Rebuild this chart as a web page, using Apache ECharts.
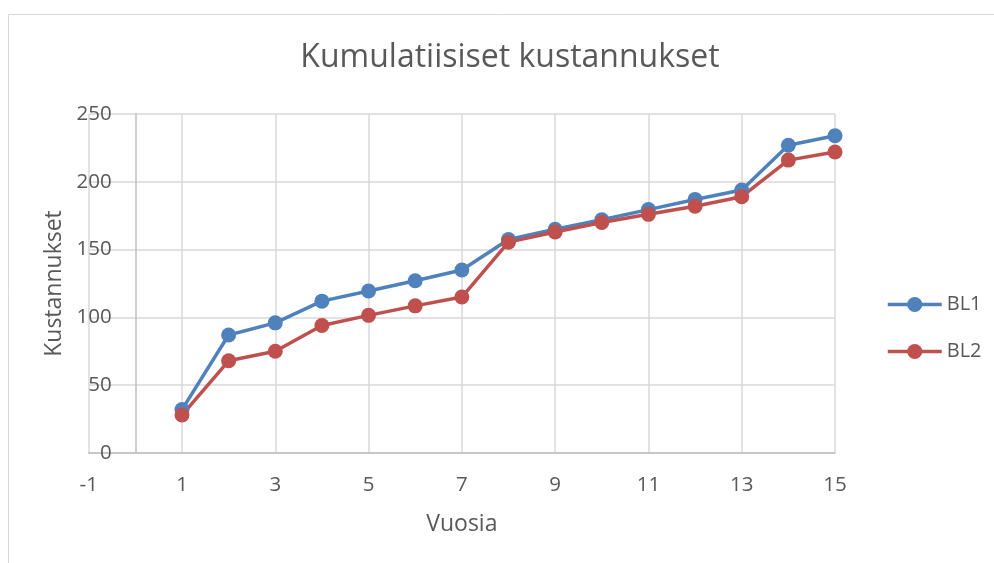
<!DOCTYPE html>
<html style="height: 100%">
<head>
    <meta charset="utf-8">
    <script src="https://cdn.jsdelivr.net/npm/echarts@6/dist/echarts.min.js"></script>
</head>
<body style="height: 100%; margin: 0; background: #fff">
<div id="container" style="width: 994px; height: 563px"></div>

<script type="text/javascript">
    // years on the x axis
    var years = [1, 2, 3, 4, 5, 6, 7, 8, 9, 10, 11, 12, 13, 14, 15];
    var bl1 = [32, 87, 96, 112, 119.5, 127, 135, 157.5, 165, 172, 179.5, 187, 194, 227, 234];
    var bl2 = [28, 68, 75, 94, 101.5, 108.5, 115, 155.5, 163, 170, 176, 182, 189, 216, 222];
    var seriesNames = ['BL1', 'BL2'];
    var seriesColors = ['#4f81bd', '#c0504d'];

    var textColor = '#595959';
    var gridColor = '#d9d9d9';
    var axisColor = '#bfbfbf';
    var font = 'Open Sans';

    function pairs(values) {
        return years.map(function (y, i) { return [y, values[i]]; });
    }

    var myChart = echarts.init(document.getElementById('container'), null, {renderer: 'canvas'});

    var option = {
        backgroundColor: '#fff',
        animation: false,
        graphic: [{
            type: 'rect',
            shape: {x: 8.5, y: 14.5, width: 1200, height: 800},
            style: {fill: 'none', stroke: gridColor, lineWidth: 1},
            silent: true
        }],
        title: {
            text: 'Kumulatiisiset kustannukset',
            left: 505,
            textAlign: 'center',
            top: 37,
            textStyle: {color: textColor, fontFamily: font, fontSize: 32, fontWeight: 'normal'}
        },
        legend: {
            orient: 'vertical',
            left: 881,
            top: 289.5,
            itemWidth: 54,
            itemHeight: 19,
            itemGap: 27,
            lineStyle: {width: 3.5},
            textStyle: {color: textColor, fontFamily: font, fontSize: 20},
            data: seriesNames
        },
        grid: {left: 88.7, right: 159, top: 114, bottom: 110, outerBoundsMode: 'none'},
        xAxis: {
            type: 'value',
            min: -1,
            max: 15,
            interval: 2,
            name: 'Vuosia',
            nameLocation: 'middle',
            nameGap: 60,
            nameTextStyle: {color: textColor, fontFamily: font, fontSize: 23},
            axisLine: {lineStyle: {color: axisColor, width: 1.5}},
            axisTick: {show: false},
            axisLabel: {color: textColor, fontFamily: font, fontSize: 20.5, margin: 22},
            splitLine: {show: true, lineStyle: {color: gridColor, width: 1.5}}
        },
        yAxis: {
            type: 'value',
            min: 0,
            max: 250,
            interval: 50,
            name: 'Kustannukset',
            nameLocation: 'middle',
            nameGap: 23,
            nameTextStyle: {color: textColor, fontFamily: font, fontSize: 23},
            axisLine: {show: true, onZero: true, lineStyle: {color: axisColor, width: 1.5}},
            axisTick: {show: false},
            axisLabel: {color: textColor, fontFamily: font, fontSize: 20.5, margin: -23},
            splitLine: {show: true, lineStyle: {color: gridColor, width: 1.5}}
        },
        series: [bl1, bl2].map(function (values, i) {
            return {
                name: seriesNames[i],
                type: 'line',
                data: pairs(values),
                symbol: 'circle',
                symbolSize: 15,
                color: seriesColors[i],
                lineStyle: {width: 3.5, color: seriesColors[i]},
                itemStyle: {color: seriesColors[i]}
            };
        })
    };

    myChart.setOption(option);
</script>
</body>
</html>
